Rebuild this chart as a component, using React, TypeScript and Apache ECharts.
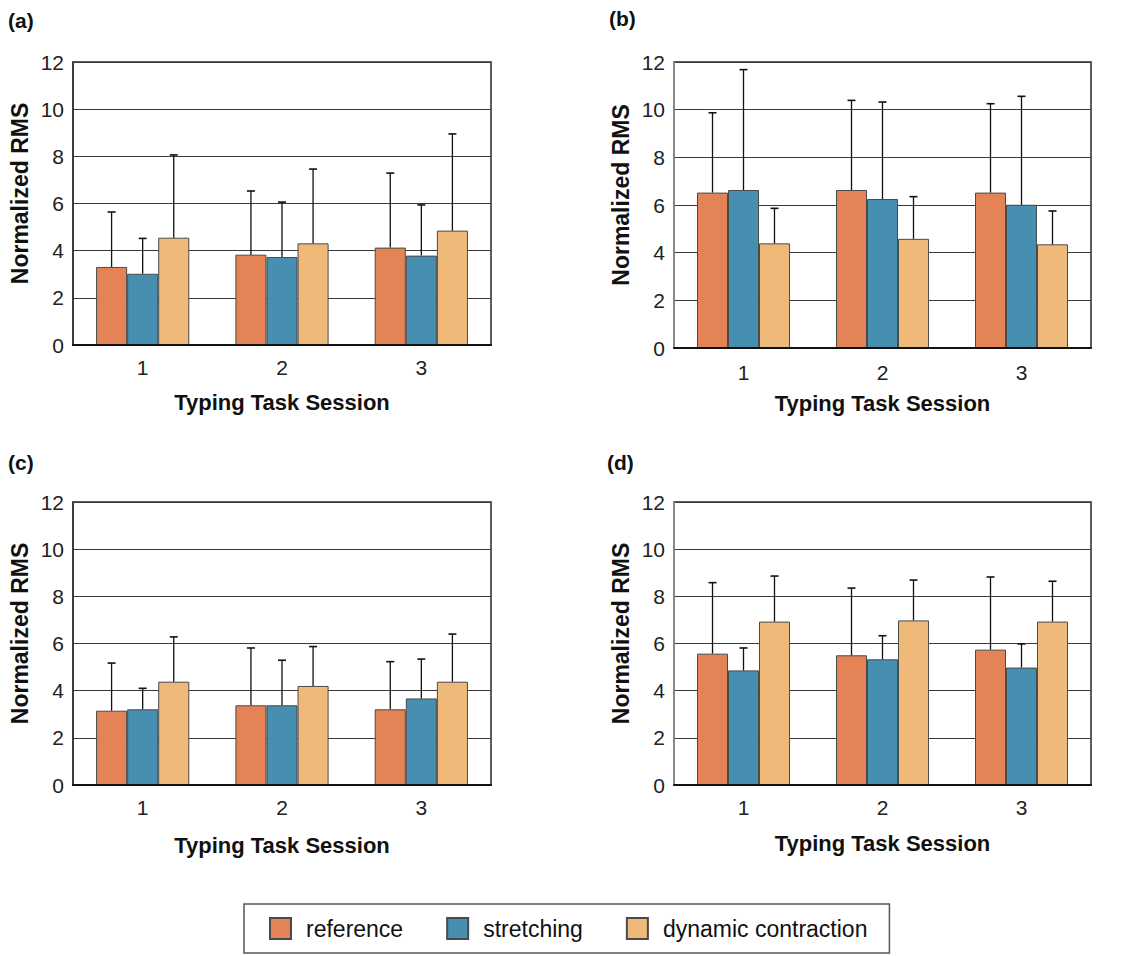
import React, { useEffect, useRef } from "react";
import * as echarts from "echarts";

const sessions = ["1", "2", "3"];
const seriesNames = ["reference", "stretching", "dynamic contraction"];
const seriesColors = ["#E38356", "#468FB1", "#EFB97A"];
const yTicks = [0, 2, 4, 6, 8, 10, 12];

// Panel (a)
const aMean = [
  [3.31, 3.83, 4.13],
  [3.02, 3.73, 3.79],
  [4.55, 4.31, 4.85],
];
const aSD = [
  [2.33, 2.7, 3.16],
  [1.5, 2.33, 2.15],
  [3.51, 3.15, 4.1],
];
// Panel (b)
const bMean = [
  [6.52, 6.63, 6.52],
  [6.63, 6.25, 6.01],
  [4.39, 4.58, 4.35],
];
const bSD = [
  [3.35, 3.76, 3.73],
  [5.05, 4.07, 4.55],
  [1.47, 1.77, 1.4],
];
// Panel (c)
const cMean = [
  [3.15, 3.38, 3.21],
  [3.21, 3.38, 3.67],
  [4.38, 4.2, 4.38],
];
const cSD = [
  [2.02, 2.43, 2.02],
  [0.89, 1.91, 1.67],
  [1.9, 1.67, 2.02],
];
// Panel (d)
const dMean = [
  [5.57, 5.5, 5.74],
  [4.86, 5.33, 4.98],
  [6.93, 6.98, 6.93],
];
const dSD = [
  [3.01, 2.85, 3.08],
  [0.95, 1.0, 1.0],
  [1.93, 1.71, 1.71],
];

const panelLabels = ["(a)", "(b)", "(c)", "(d)"];
const xName = "Typing Task Session";
const yName = "Normalized RMS";

const FONT = "'Liberation Sans', Arial, Helvetica, sans-serif";
const BAR_FRAC = 0.223;

export default function App() {
  const ref = useRef<HTMLDivElement>(null);

  useEffect(() => {
    if (!ref.current) return;
    const chart = echarts.init(ref.current, null, { renderer: "svg" });

    const panels = [
      { mean: aMean, sd: aSD, grid: { left: 73, top: 62, width: 418, height: 283 }, xLab: 12, xGap: 46, leftColor: "#333" },
      { mean: bMean, sd: bSD, grid: { left: 674, top: 62, width: 417, height: 286 }, xLab: 14, xGap: 44, leftColor: "#999" },
      { mean: cMean, sd: cSD, grid: { left: 73, top: 502, width: 418, height: 283 }, xLab: 12, xGap: 49, leftColor: "#333" },
      { mean: dMean, sd: dSD, grid: { left: 674, top: 502, width: 417, height: 283 }, xLab: 12, xGap: 47, leftColor: "#999" },
    ];

    const grids: any[] = [];
    const xAxes: any[] = [];
    const yAxes: any[] = [];
    const series: any[] = [];

    panels.forEach((p, pi) => {
      grids.push({
        ...p.grid,
        show: true,
        borderColor: "#2a2a2a",
        borderWidth: 1.5,
        backgroundColor: "#fff",
        containLabel: false,
      });
      xAxes.push({
        type: "category",
        gridIndex: pi,
        data: sessions,
        axisTick: { show: false },
        axisLine: { show: true, lineStyle: { color: "#111", width: 2 } },
        axisLabel: { fontSize: 21, color: "#222", fontFamily: FONT, margin: p.xLab },
        name: xName,
        nameLocation: "middle",
        nameGap: p.xGap,
        nameTextStyle: { fontSize: 22, fontWeight: "bold", color: "#111", fontFamily: FONT },
        z: 5,
      });
      yAxes.push({
        type: "value",
        gridIndex: pi,
        min: 0,
        max: 12,
        interval: 2,
        axisTick: { show: false },
        axisLine: { show: true, lineStyle: { color: p.leftColor, width: 1.5 } },
        axisLabel: { fontSize: 21, color: "#222", fontFamily: FONT, margin: 9, formatter: (v: number) => (yTicks.includes(v) ? String(v) : "") },
        splitLine: { show: true, lineStyle: { color: "#3a3a3a", width: 1.2 } },
        name: yName,
        nameLocation: "middle",
        nameRotate: 90,
        nameGap: 42,
        nameTextStyle: { fontSize: 23, fontWeight: "bold", color: "#111", fontFamily: FONT, padding: [0, 0, 0, 20] },
      });

      seriesNames.forEach((name, si) => {
        series.push({
          type: "bar",
          name,
          xAxisIndex: pi,
          yAxisIndex: pi,
          data: p.mean[si],
          barWidth: BAR_FRAC * 100 + "%",
          barGap: "0%",
          itemStyle: { color: seriesColors[si], borderColor: "#4a4a4a", borderWidth: 1 },
          z: 2,
        });
      });

      seriesNames.forEach((name, si) => {
        const data = p.mean[si].map((m, ci) => [ci, m, m + p.sd[si][ci]]);
        series.push({
          type: "custom",
          name: name + " SD",
          xAxisIndex: pi,
          yAxisIndex: pi,
          data,
          encode: { x: 0, y: [1, 2] },
          z: 3,
          silent: true,
          renderItem: (params: any, api: any) => {
            const ci = api.value(0);
            const top = api.coord([ci, api.value(2)]);
            const base = api.coord([ci, api.value(1)]);
            const band = api.size([1, 0])[0];
            const x = top[0] + (si - 1) * band * BAR_FRAC;
            const style = { stroke: "#111", lineWidth: 1.3 };
            return {
              type: "group",
              children: [
                { type: "line", shape: { x1: x, y1: base[1], x2: x, y2: top[1] }, style },
                { type: "line", shape: { x1: x - 4, y1: top[1], x2: x + 4, y2: top[1] }, style: { stroke: "#111", lineWidth: 1.6 } },
              ],
            };
          },
        });
      });
    });

    const labelPos = [
      [8, 10],
      [609, 8],
      [8, 452],
      [607, 452],
    ];

    chart.setOption({
      animation: false,
      backgroundColor: "#fff",
      grid: grids,
      xAxis: xAxes,
      yAxis: yAxes,
      series,
      legend: {
        data: seriesNames,
        left: 244,
        top: 904,
        orient: "horizontal",
        icon: "rect",
        itemWidth: 21,
        itemHeight: 21,
        itemGap: 43,
        padding: [13, 22, 13, 25],
        borderColor: "#555",
        borderWidth: 1.5,
        textStyle: { fontSize: 23, color: "#111", fontFamily: FONT, padding: [0, 0, 0, 10] },
        selectedMode: false,
      },
      graphic: panelLabels.map((t, i) => ({
        type: "text",
        left: labelPos[i][0],
        top: labelPos[i][1],
        style: { text: t, fontSize: 21, fontWeight: "bold", fill: "#111", font: `bold 21px ${FONT}` },
      })),
    });

    return () => chart.dispose();
  }, []);

  return <div ref={ref} style={{ position: "fixed", left: 0, top: 0, width: 1137, height: 956 }} />;
}
